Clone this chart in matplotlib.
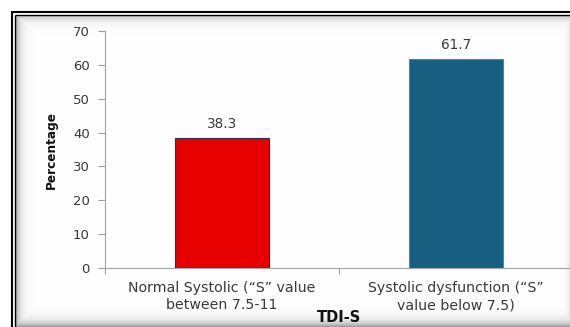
import numpy as np
import matplotlib
matplotlib.use("Agg")
import matplotlib.pyplot as plt

plt.rcParams['font.family'] = ['DejaVu Sans']

categories = ['Normal Systolic (\u201cS\u201d value\nbetween 7.5-11',
              'Systolic dysfunction (\u201cS\u201d\nvalue below 7.5)']
values = [38.3, 61.7]
value_labels = ['38.3', '61.7']
bar_colors = ['#e60000', '#175e80']
yticks = [0, 10, 20, 30, 40, 50, 60, 70]

W, H = 570, 327
fig = plt.figure(figsize=(W / 100, H / 100), dpi=100)

# background frame with shadow
bg = fig.add_axes([0, 0, 1, 1], zorder=-5)
bg.set_xlim(0, W)
bg.set_ylim(H, 0)
bg.axis('off')
xx, yy = np.meshgrid(np.arange(W) + 0.5, np.arange(H) + 0.5)
inside = (xx >= 16) & (yy >= 15)
d_left = 0.33 * np.exp(-(xx - 16) / 4.5)
d_top = 0.30 * np.exp(-(yy - 15) / 4.5)
d_bot = 0.42 * np.exp(-(H - yy) / 5.0)
d_right = 0.12 * np.exp(-(W - xx) / 2.5)
dark = np.maximum.reduce([d_left, d_top, d_bot, d_right])
dark[~inside] = 0
img = 1 - dark
bg.imshow(np.dstack([img, img, img]), extent=(0, W, H, 0), aspect='auto',
          interpolation='bilinear')
# double black border (top and left)
bg.plot([12, 12], [11, H], color='black', lw=1.5, solid_capstyle='butt')
bg.plot([12, W], [11.8, 11.8], color='black', lw=1.5, solid_capstyle='butt')
bg.plot([15.2, 15.2], [14.5, H], color='black', lw=1.0, solid_capstyle='butt')
bg.plot([15.2, W], [14.5, 14.5], color='black', lw=1.0, solid_capstyle='butt')

left, right, bottom, top = 105, 573, 268, 31
ax = fig.add_axes([left / W, 1 - bottom / H, (right - left) / W, (bottom - top) / H])
ax.set_facecolor('none')

x = np.arange(len(values))
bars = ax.bar(x, values, width=0.40, color=bar_colors,
              edgecolor=['#2a3050', '#4a86a6'], linewidth=0.8, zorder=3)
for xi, v, lab in zip(x, values, value_labels):
    ax.annotate(lab, (xi, v), xytext=(0, 10.5), textcoords='offset points',
                ha='center', va='center', fontsize=9.8, color='#3a3a3a')

ax.set_xlim(-0.5, 1.5)
ax.set_ylim(0, 70)
ax.set_yticks(yticks)
ax.set_yticklabels([str(t) for t in yticks], fontsize=9.5, color='#3a3a3a')
ax.tick_params(axis='y', length=5, width=0.8, color='#a0a0a0', pad=6)

ax.set_xticks([-0.5, 0.5, 1.5])
ax.set_xticklabels(['', '', ''])
ax.tick_params(axis='x', which='major', length=4, width=0.8, color='#a0a0a0')
ax.set_xticks(x, minor=True)
ax.set_xticklabels(categories, minor=True, fontsize=10.2, color='#3a3a3a',
                   linespacing=1.28)
ax.tick_params(axis='x', which='minor', length=0, pad=9.5)

for s in ['top', 'right']:
    ax.spines[s].set_visible(False)
for s in ['left', 'bottom']:
    ax.spines[s].set_color('#a8a8a8')
    ax.spines[s].set_linewidth(0.9)

ax.set_ylabel('Percentage', fontsize=8.7, fontweight='bold', color='#111111', va='center')
ax.yaxis.set_label_coords((51 - left) / (right - left), (bottom - 150) / (bottom - top))
ax.set_xlabel('TDI-S', fontsize=10.5, fontweight='bold', color='#111111', va='center')
ax.xaxis.set_label_coords((339 - left) / (right - left), (bottom - 318) / (bottom - top))

fig.savefig('out.png', dpi=100)
